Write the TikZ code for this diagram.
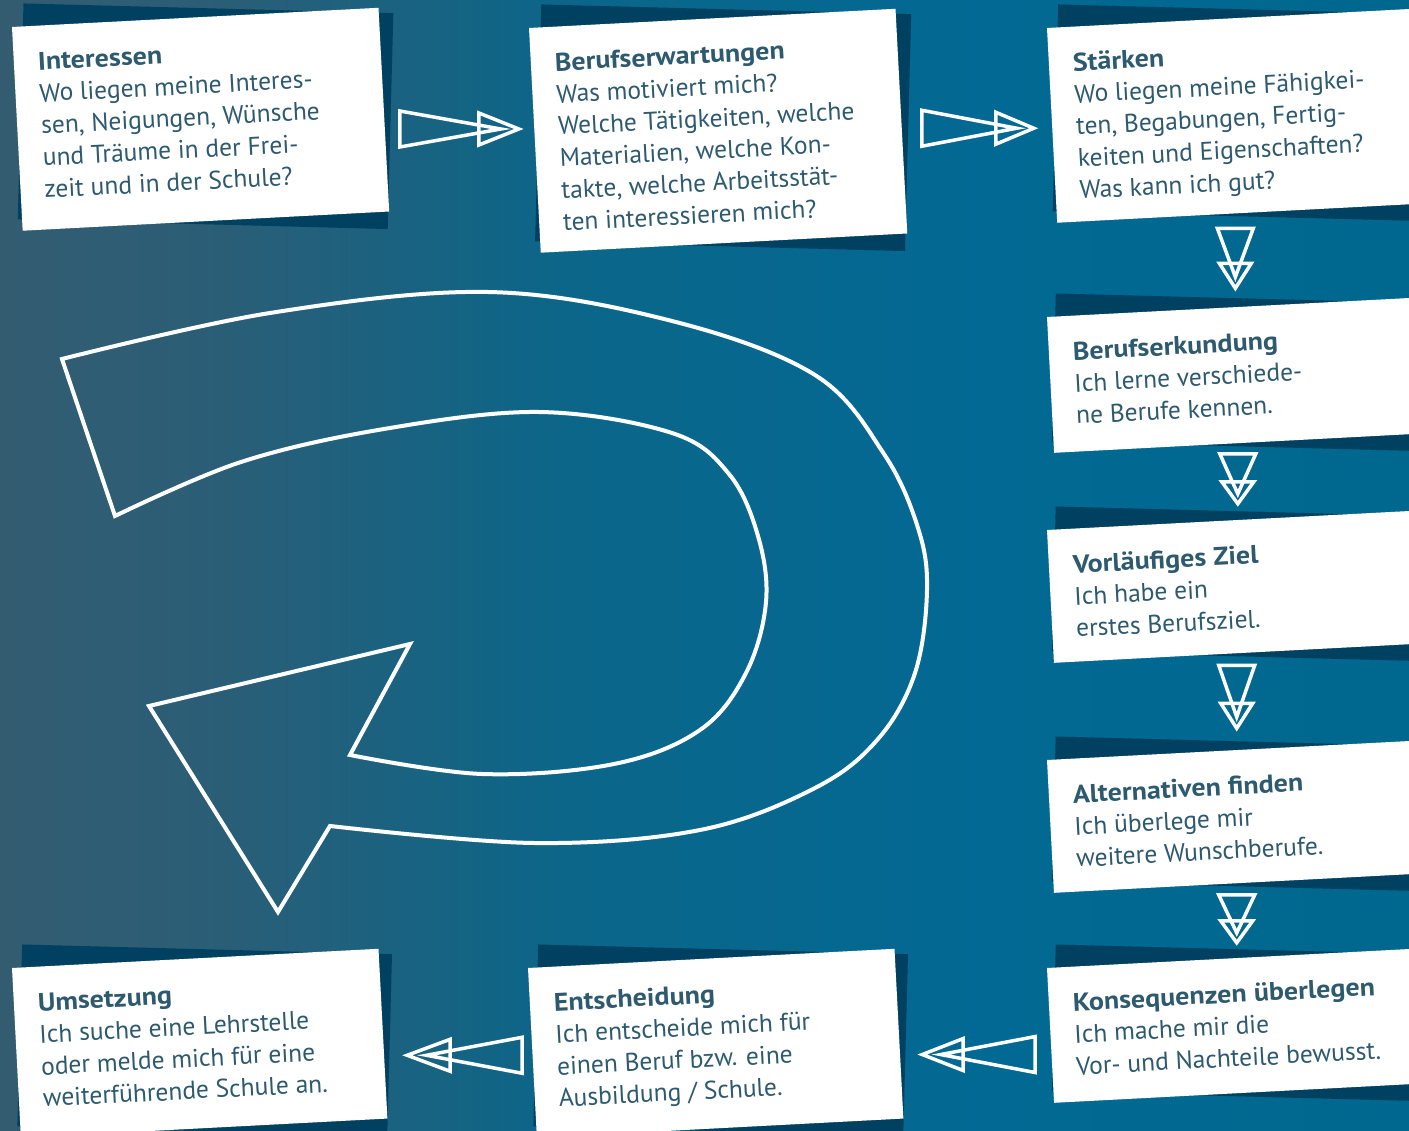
\documentclass[tikz,border=0pt]{standalone}
\usepackage{fontspec}
\setmainfont{PT Sans}
\newfontfamily\titlefont{PT Sans}[FakeStretch=1.1]
\usetikzlibrary{calc}

\definecolor{bgA}{HTML}{335C71}
\definecolor{bgB}{HTML}{2A5E77}
\definecolor{bgC}{HTML}{0B6689}
\definecolor{bgD}{HTML}{026994}
\definecolor{bgE}{HTML}{00678E}
\definecolor{shadowc}{HTML}{004060}
\definecolor{cardtext}{HTML}{2E5A70}

\pgfdeclarehorizontalshading{bgshade}{100bp}{color(0bp)=(bgA); color(25bp)=(bgA);
  color(33bp)=(bgB); color(45bp)=(bgC); color(60bp)=(bgD); color(75bp)=(bgE); color(100bp)=(bgE)}

\tikzset{
  card/.style={fill=white, rotate=3, minimum width=367pt, inner sep=0pt},
  cardlabel/.style={rotate=3, anchor=north west, inner xsep=24pt, inner ysep=22pt,
    align=left, text=cardtext, font=\fontsize{25.5pt}{32pt}\selectfont},
  cardshadow/.style={fill=shadowc, rotate=-1.5, minimum width=370pt, inner sep=0pt},
  hollow/.style={draw=white, line width=3.5pt, miter limit=10},
}

% card: name, top-left corner, height, title, text
\newcommand{\stepcard}[5]{%
  \path #2 ++(3:183.5) ++(-87:#3/2) coordinate (#1-c);
  \node[cardshadow, minimum height={(#3+12)*1pt}] (#1-sh) at ($(#1-c)+(5,3)$) {};
  \node[card, minimum height={#3*1pt}] (#1) at (#1-c) {};
  \node[cardlabel] (#1-t) at (#1.north west) {{\titlefont\bfseries\strut #4}\\#5};
}

% hollow arrow: centre, angle, length, head length
\newcommand{\hollowarrow}[4]{%
  \begin{scope}[shift={#1}, rotate=#2]
    \draw[hollow] ({-#3/2},18) -- ({-#3/2},-18) -- ({#3/2-0.45*#4},0) -- cycle;
    \draw[hollow] ({#3/2-#4},16) -- ({#3/2},0) -- ({#3/2-#4},-16) -- cycle;
  \end{scope}}

\begin{document}
\begin{tikzpicture}[x=1pt,y=1pt]
  \useasboundingbox (0,0) rectangle (1409,-1131);
  \clip (0,0) rectangle (1409,-1131);
  \shade[shading=bgshade] (0,0) rectangle (1409,-1131);

  % big return arrow
  \draw[white, line width=4pt, line join=miter]
    (62,-359) -- plot[smooth, tension=0.6] coordinates {(62,-359) (270,-313) (488,-292) (672,-321)
      (815,-375) (884,-454) (918,-528) (927,-590) (915,-673) (878,-739) (815,-788)
      (700,-830) (534,-843) (330,-826)}
    -- (278,-912) -- (149,-706) -- (410,-644) -- (350,-755)
    -- plot[smooth, tension=0.6] coordinates {(350,-755) (482,-774) (614,-764) (700,-730)
      (746,-673) (766,-602) (758,-536) (729,-474) (672,-433) (539,-412) (384,-429)
      (241,-462) (115,-516)}
    -- cycle;

  % cards
  \stepcard{inter}{(12,-27)}{204}{Interessen}{Wo liegen meine Interes-\\sen, Neigungen, Wünsche\\und Träume in der Frei-\\zeit und in der Schule?}
  \stepcard{erwart}{(529,-28)}{225}{Berufserwartungen}{Was motiviert mich?\\Welche Tätigkeiten, welche\\Materialien, welche Kon-\\takte, welche Arbeitsstät-\\ten interessieren mich?}
  \stepcard{staerk}{(1047,-28)}{195}{Stärken}{Wo liegen meine Fähigkei-\\ten, Begabungen, Fertig-\\keiten und Eigenschaften?\\Was kann ich gut?}
  \stepcard{erkund}{(1047,-317)}{136}{Berufserkundung}{Ich lerne verschiede-\\ne Berufe kennen.}
  \stepcard{ziel}{(1047,-530)}{133}{Vorläufiges Ziel}{Ich habe ein\\erstes Berufsziel.}
  \stepcard{altern}{(1047,-760)}{133}{Alternativen finden}{Ich überlege mir\\weitere Wunschberufe.}
  \stepcard{konseq}{(1047,-968)}{135}{Konsequenzen überlegen}{Ich mache mir die\\Vor- und Nachteile bewusst.}
  \stepcard{entsch}{(528,-968)}{170}{Entscheidung}{Ich entscheide mich für\\einen Beruf bzw. eine\\Ausbildung / Schule.}
  \stepcard{umsetz}{(12,-968)}{170}{Umsetzung}{Ich suche eine Lehrstelle\\oder melde mich für eine\\weiterführende Schule an.}

  % arrows between cards
  \hollowarrow{($(inter.east)!0.5!(erwart.west)+(0,-4)$)}{0}{119}{40}
  \hollowarrow{($(erwart.east)!0.5!(staerk.west)+(1,-5)$)}{0}{112}{38}
  \hollowarrow{($(staerk.south)!0.5!(erkund.north)+(0,2)$)}{-90}{60}{25}
  \hollowarrow{($(erkund.south)!0.5!(ziel.north)+(4,3)$)}{-90}{50}{22}
  \hollowarrow{($(ziel.south)!0.5!(altern.north)+(3,5)$)}{-90}{63}{25}
  \hollowarrow{($(altern.south)!0.5!(konseq.north)+(3,2)$)}{-90}{48}{22}
  \hollowarrow{($(konseq.west)!0.5!(entsch.east)+(4,-20)$)}{180}{113}{41}
  \hollowarrow{($(entsch.west)!0.5!(umsetz.east)+(7,-12)$)}{180}{115}{43}
\end{tikzpicture}
\end{document}
